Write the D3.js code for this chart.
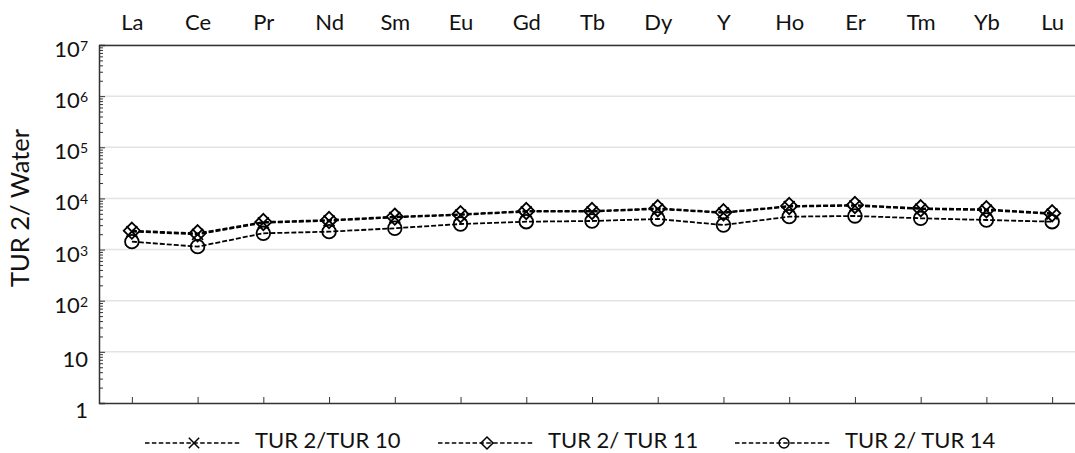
<!DOCTYPE html>
<html><head><meta charset="utf-8">
<script src="https://cdn.jsdelivr.net/npm/d3@7"></script>
<style>
body{margin:0;background:#fff;}
text{font-family:Lato,"Open Sans",sans-serif;fill:#111;}
</style></head>
<body>
<svg id="chart" width="1075" height="453"></svg>
<script>
const categories = ["La","Ce","Pr","Nd","Sm","Eu","Gd","Tb","Dy","Y","Ho","Er","Tm","Yb","Lu"];
const tur10 = [2250,1980,3330,3650,4250,4750,5500,5500,6200,5200,6900,7200,6200,5900,4950];
const tur11 = [2340,2080,3460,3790,4400,4900,5680,5680,6410,5360,7120,7450,6410,6130,5130];
const tur14 = [1430,1140,2080,2240,2610,3160,3510,3620,3960,3020,4400,4540,4090,3790,3510];
const seriesNames = ["TUR 2/TUR 10","TUR 2/ TUR 11","TUR 2/ TUR 14"];
const yTickValues = [1,10,100,1000,10000,100000,1000000,10000000];
const yTickExponents = ["1","10","2","3","4","5","6","7"];

const svg = d3.select("#chart");
const pLeft = 99, pRight = 1085, pTop = 45, pBottom = 403;
const x = d3.scalePoint().domain(categories).range([pLeft, pRight]).padding(0.5);
const y = d3.scaleLog().domain([1, 1e7]).range([pBottom, pTop]);

// gridlines
svg.append("g").selectAll("line").data(yTickValues.slice(1)).join("line")
  .attr("x1", pLeft).attr("x2", pRight).attr("y1", d => y(d)).attr("y2", d => y(d))
  .attr("stroke", "#e3e3e3").attr("stroke-width", 1.5);

// minor ticks
const minors = [];
for (let e = 0; e < 7; e++) for (let m = 2; m <= 9; m++) minors.push(m * Math.pow(10, e));
const axisColor = "#333";
svg.append("g").attr("transform", `translate(${pLeft},0)`)
  .call(d3.axisRight(y).tickValues(minors).tickSize(4).tickFormat(""))
  .call(g => g.select(".domain").remove())
  .call(g => g.selectAll("line").attr("stroke", axisColor));
svg.append("g").attr("transform", `translate(${pLeft},0)`)
  .call(d3.axisRight(y).tickValues(yTickValues).tickSize(6).tickFormat(""))
  .call(g => g.select(".domain").attr("stroke", axisColor).attr("stroke-width",1.5))
  .call(g => g.selectAll("line").attr("stroke", axisColor));

// y labels
const yl = svg.append("g").selectAll("text").data(yTickValues).join("text")
  .attr("x", 88).attr("y", (d, i) => y(d) + (i < 2 ? 15 : 12)).attr("text-anchor", "end")
  .style("font-size", "22px").attr("fill", "#222");
yl.each(function(d, i) {
  const t = d3.select(this);
  if (i < 2) { t.text(yTickExponents[i]); }
  else {
    t.append("tspan").text("10");
    t.append("tspan").attr("dy", -6).style("font-size", "14px").text(yTickExponents[i]);
  }
});

// bottom axis
svg.append("g").attr("transform", `translate(0,${pBottom})`)
  .call(d3.axisTop(x).tickSize(6).tickFormat("").tickSizeOuter(0))
  .call(g => g.select(".domain").attr("stroke", axisColor).attr("stroke-width",1.5))
  .call(g => g.selectAll("line").attr("stroke", axisColor));

// top axis with category labels
svg.append("g").attr("transform", `translate(0,${pTop})`)
  .call(d3.axisTop(x).tickSize(0).tickPadding(15).tickSizeOuter(0))
  .call(g => g.select(".domain").attr("stroke", axisColor).attr("stroke-width",1.5))
  .call(g => g.selectAll("text").style("font-size", "22px").style("font-family","Lato,'Open Sans',sans-serif").attr("fill","#111"));

// y title
svg.append("text").attr("transform", "translate(29,208) rotate(-90)")
  .attr("text-anchor", "middle").style("font-size", "25.5px").text("TUR 2/ Water");

const line = d3.line().x((d, i) => x(categories[i])).y(d => y(d));
const seriesData = [tur10, tur11, tur14];
const markerKinds = ["x", "diamond", "circle"];

function drawMarker(g, kind, cx, cy, s, w) {
  if (kind === "circle") {
    g.append("circle").attr("cx", cx).attr("cy", cy).attr("r", s)
      .attr("fill", "none").attr("stroke", "#000").attr("stroke-width", w);
  } else if (kind === "diamond") {
    const h = s * 1.2;
    g.append("path").attr("d", `M${cx},${cy-h}L${cx+h},${cy}L${cx},${cy+h}L${cx-h},${cy}Z`)
      .attr("fill", "none").attr("stroke", "#000").attr("stroke-width", w);
  } else {
    const h = s * 0.8;
    g.append("path").attr("d", `M${cx-h},${cy-h}L${cx+h},${cy+h}M${cx-h},${cy+h}L${cx+h},${cy-h}`)
      .attr("stroke", "#000").attr("stroke-width", w);
  }
}

[2, 1, 0].forEach(si => {
  const g = svg.append("g");
  g.append("path").datum(seriesData[si]).attr("d", line)
    .attr("fill", "none").attr("stroke", "#000").attr("stroke-width", 1.8)
    .attr("stroke-dasharray", "5,2");
  seriesData[si].forEach((v, i) => drawMarker(g, markerKinds[si], x(categories[i]), y(v), 6.8, 1.8));
});

// legend
const legendX = [145, 438, 735];
const legendMarkerSize = [6.5, 5, 5];
const lg = svg.append("g");
seriesNames.forEach((name, i) => {
  const lx = legendX[i], ly = 443;
  lg.append("line").attr("x1", lx).attr("x2", lx + 95).attr("y1", ly).attr("y2", ly)
    .attr("stroke", "#000").attr("stroke-width", 1.6).attr("stroke-dasharray", "4.5,2.4");
  const mg = lg.append("g");
  drawMarker(mg, markerKinds[i], lx + 49, ly, legendMarkerSize[i], 1.5);
  lg.append("text").attr("x", lx + 110).attr("y", 447.5)
    .style("font-size", "22px").text(name);
});
</script>
</body></html>
